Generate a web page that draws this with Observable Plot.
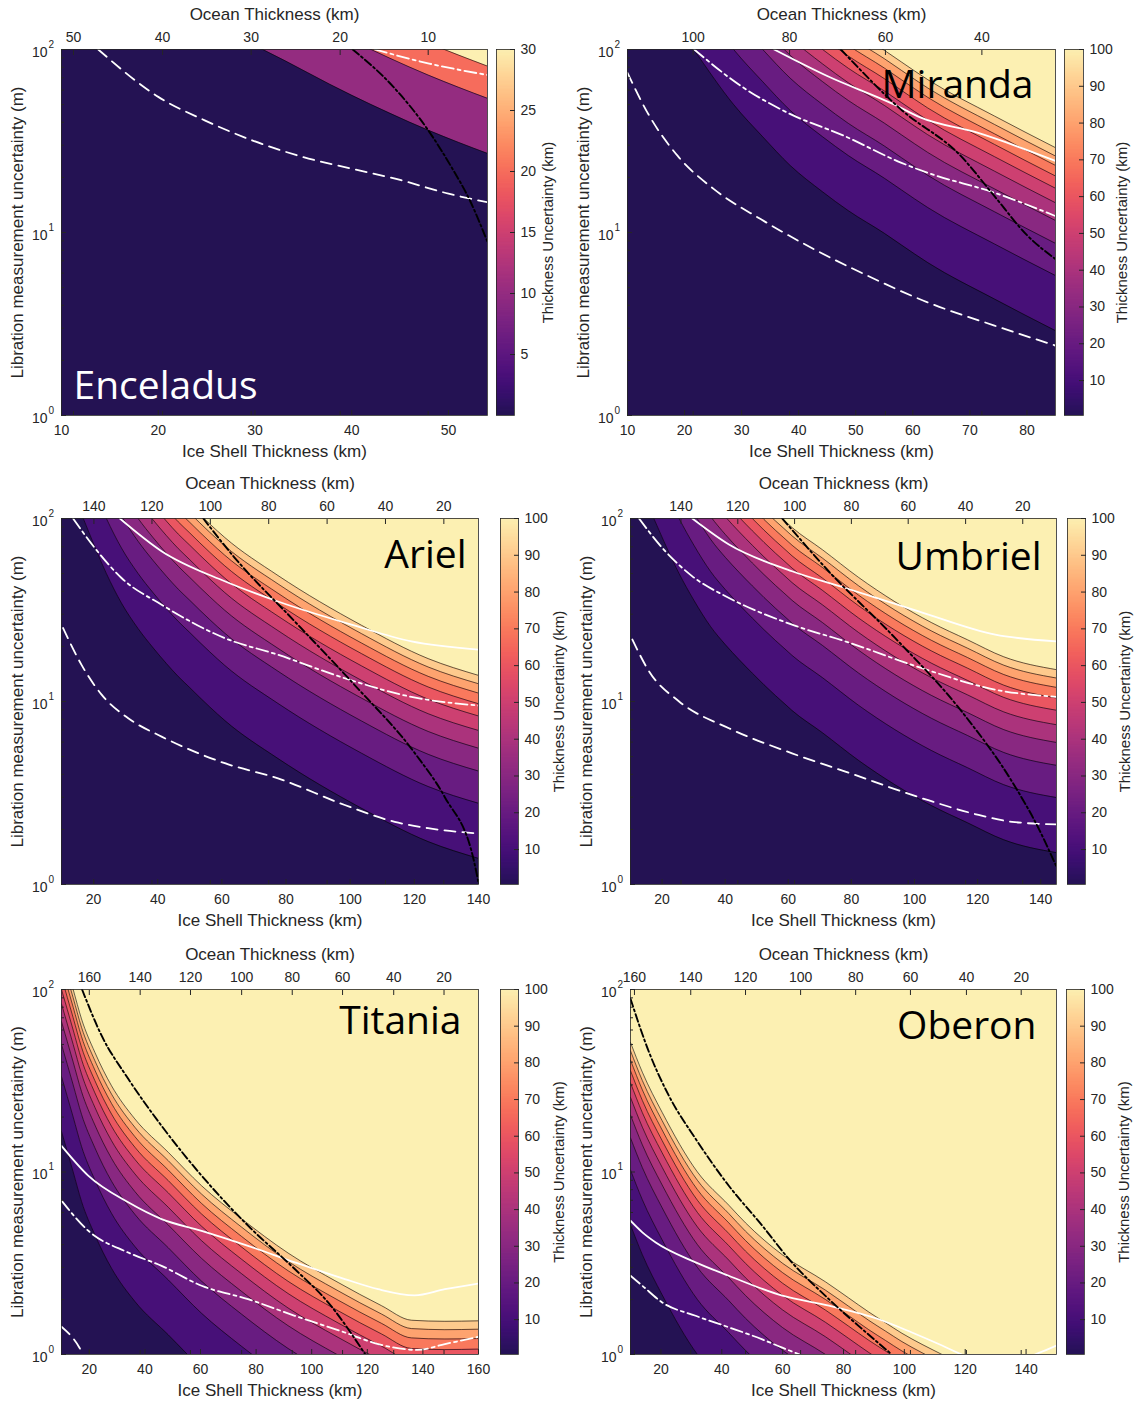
<!DOCTYPE html>
<html><head><meta charset="utf-8">
<script src="https://cdn.jsdelivr.net/npm/d3@7"></script>
<script src="https://cdn.jsdelivr.net/npm/@observablehq/plot@0.6"></script>
<style>
html,body{margin:0;padding:0;background:#fff;}
#root{position:relative;width:1137px;height:1402px;overflow:hidden;background:#fff;}
#root > svg{position:absolute;overflow:visible;}
</style></head><body><div id="root"></div>
<script>
// ---------- shared tick labels ----------
const yTicks = [1, 10, 100];
const yTickExp = ["0", "1", "2"];
const yMinorTicks = [2,3,4,5,6,7,8,9,20,30,40,50,60,70,80,90];

// ---------- Enceladus ----------
// sensitivity = thickness uncertainty (km) per metre of libration uncertainty
const encIce  = [10, 20, 30.8, 40, 47.9, 54.1];
const encSens = [0.03, 0.055, 0.1, 0.178, 0.276, 0.371];
const encLevels = [10, 20, 30];
const encIceTicks = [10, 20, 30, 40, 50];
const encOceanTicks = [50, 40, 30, 20, 10];
const encOceanTickIce = [11.24, 20.45, 29.6, 38.8, 47.9];
const encBarTicks = [5, 10, 15, 20, 25, 30];
const encDashed = [[13.8,100],[20,55.1],[24.8,41.0],[29.7,31.9],[34.9,25.9],[40,22.3],[45.1,19.3],[50,16.3],[54.1,14.6]];
const encDashDot = [[42.4,100],[48,83.8],[54.1,72.4]];
const encBlack = [[40.1,100],[44.3,62.5],[47.9,36.2],[50.3,22.8],[52.2,15.0],[54.1,8.7]];

// ---------- Miranda ----------
const mirIce  = [10, 21.6, 28.6, 33.7, 38.5, 44.2, 48.7, 55, 58, 62.6, 74.3, 85];
const mirSens = [0.03, 0.1, 0.2, 0.3, 0.43, 0.6, 0.76, 1.01, 1.17, 1.46, 2.31, 3.44];
const mirIceTicks = [10, 20, 30, 40, 50, 60, 70, 80];
const mirOceanTicks = [100, 80, 60, 40];
const mirOceanTickIce = [21.5, 38.4, 55.2, 72.1];
const mirDashed = [[10,74.6],[13.5,45.2],[18.8,26.2],[25.2,17.2],[33.4,11.8],[42.7,8.1],[52.1,5.8],[62.6,4.15],[74.3,3.1],[85,2.41]];
const mirDashDot = [[21.7,100],[29.9,63.1],[38,45.2],[48,33.7],[57.9,24.1],[62.6,21.2],[74.3,16.5],[85,12.3]];
const mirSolid = [[35.7,100],[45,71.6],[56.7,50.1],[61.4,42.4],[71.3,35.1],[85,24.6]];
const mirBlack = [[47.4,100],[57.9,47.1],[68.4,26.2],[74.3,15.8],[80.1,9.6],[85,7.16]];

// ---------- Ariel ----------
const ariIce  = [10, 16.8, 24, 28.7, 33.9, 38.6, 42.7, 46.4, 50, 53.1, 56.2, 60.9, 77.5, 103.5, 124.3, 140];
const ariSens = [0.05, 0.1, 0.2, 0.29, 0.4, 0.51, 0.62, 0.73, 0.84, 0.95, 1.07, 1.27, 2.05, 3.83, 5.83, 7.2];
const ariIceTicks = [20, 40, 60, 80, 100, 120, 140];
const ariOceanTicks = [140, 120, 100, 80, 60, 40, 20];
const ariOceanTickIce = [20.1, 38.2, 56.4, 74.6, 92.8, 111.0, 129.2];
const ariDashed = [[10.5,25.2],[16.2,15.9],[22.5,10.9],[30.8,8.1],[41.2,6.43],[60.9,4.6],[77.5,3.8],[98.3,2.72],[113.9,2.2],[124.3,2.03],[140,1.9]];
const ariDashDot = [[13.6,100],[20.4,69],[28.7,47.3],[41.2,33.8],[60.9,22.2],[77.5,18.0],[98.3,13.4],[119.1,10.6],[140,9.5]];
const ariSolid = [[28.2,100],[41.2,66.3],[60.9,45.4],[77.5,35.2],[100.4,26.3],[119.1,21.3],[140,19.2]];
const ariBlack = [[54.2,100],[64,61],[82.7,27.4],[101.4,12.3],[120.4,5.15],[129.5,3.0],[138.6,1.34],[140,1.02]];

// ---------- Umbriel ----------
const umbIce  = [10, 17.4, 25.4, 30.1, 35.4, 40.1, 44.4, 48.6, 52.3, 56, 58.6, 61.2, 70.8, 82.3, 93.8, 105.3, 116.8, 128.3, 145];
const umbSens = [0.05, 0.1, 0.2, 0.28, 0.39, 0.49, 0.59, 0.70, 0.81, 0.93, 1.02, 1.12, 1.48, 2.1, 2.85, 3.7, 4.6, 5.7, 6.7];
const umbIceTicks = [20, 40, 60, 80, 100, 120, 140];
const umbOceanTicks = [140, 120, 100, 80, 60, 40, 20];
const umbOceanTickIce = [26.0, 44.0, 62.0, 80.0, 98.0, 116.2, 134.3];
const umbDashed = [[10.6,21.8],[15.9,14.6],[25.4,10.0],[41.2,7.14],[61.2,5.21],[78.1,4.14],[102.4,2.96],[120.3,2.4],[130.9,2.2],[145,2.13]];
const umbDashDot = [[12.7,100],[20.1,69],[29.6,48.3],[41.2,36.8],[61.2,26.3],[78.1,21.3],[102.4,15.2],[125.6,11.6],[145,10.6]];
const umbSolid = [[29.6,100],[41.2,72.1],[61.2,51.5],[78.1,41.7],[101.3,31.1],[125.6,23.2],[145,21.3]];
const umbBlack = [[58.1,100],[72.8,51.5],[93.9,22.2],[115,8.8],[130.9,3.65],[139.3,2.03],[145,1.25]];

// ---------- Titania ----------
const titIce  = [10, 14.2, 17.2, 22, 28, 36.4, 48.4, 60.4, 74.7, 91.5, 109.5, 125.1, 135.9, 147.9, 160];
const titSens = [0.6, 1.0, 1.45, 2.21, 3.37, 5.12, 7.8, 11.9, 18, 27.8, 40.3, 54, 64.9, 65.8, 65.4];
const titIceTicks = [20, 40, 60, 80, 100, 120, 140, 160];
const titOceanTicks = [160, 140, 120, 100, 80, 60, 40, 20];
const titOceanTickIce = [20.0, 38.3, 56.4, 74.8, 93.0, 111.1, 129.5, 147.6];
const titDashed = [[10,1.42],[16.3,1.1],[18.5,0.95]];
const titDashDot = [[10,6.97],[19.6,4.77],[34,3.62],[46,3.06],[60.4,2.38],[77.1,2.01],[93.9,1.63],[111.9,1.32],[123.9,1.14],[138,1.06],[147.9,1.14],[160,1.25]];
const titSolid = [[10,13.9],[19.6,9.55],[34,6.82],[46,5.52],[60.4,4.76],[77.1,3.94],[93.9,3.2],[111.9,2.59],[123.9,2.28],[137,2.11],[147.9,2.28],[160,2.45]];
const titBlack = [[17.4,100],[24.4,56],[34,32.4],[46,17.9],[60.4,9.55],[77.1,5.08],[93.9,2.94],[105.9,1.93],[119.3,1.0]];

// ---------- Oberon ----------
const obeIce  = [10, 13.9, 20.4, 32, 42.3, 47.8, 60, 74.1, 81.7, 88.3, 93.8, 99.2, 105.8, 112.4, 130, 150];
const obeSens = [1.95, 2.84, 4.71, 10, 15.2, 19, 28.5, 40, 49, 58.5, 67, 76.5, 88, 100, 140, 190];
const obeIceTicks = [20, 40, 60, 80, 100, 120, 140];
const obeOceanTicks = [160, 140, 120, 100, 80, 60, 40, 20];
const obeOceanTickIce = [11.3, 29.8, 47.8, 65.9, 84.0, 102.0, 120.4, 138.4];
const obeDashDot = [[10,2.7],[13.9,2.38],[20.4,1.93],[31.4,1.63],[42.3,1.41],[53.3,1.21],[59.9,1.09],[65.6,1.0]];
const obeSolid = [[10,5.41],[13.9,4.67],[18.3,4.11],[31.4,3.2],[42.3,2.7],[59.9,2.1],[75.2,1.85],[91.6,1.56],[102.5,1.32],[112.4,1.12],[118.9,1.0],[131,0.88],[142.9,1.0],[150,1.12]];
const obeBlack = [[10,88.9],[16.1,45.3],[22.6,26.2],[31.4,15.2],[42.3,8.41],[53.3,5.08],[62.1,3.33],[75.2,2.01],[86.1,1.38],[95.9,1.0]];

const levels100 = [10, 20, 30, 40, 50, 60, 70, 80, 90, 100];
const barTicks100 = [10, 20, 30, 40, 50, 60, 70, 80, 90, 100];

const lineStyles = {
  dashed:  {stroke: "#fff", strokeWidth: 1.8, strokeDasharray: "11,7"},
  dashdot: {stroke: "#fff", strokeWidth: 1.8, strokeDasharray: "12,4,3,4"},
  solid:   {stroke: "#fff", strokeWidth: 1.8},
  black:   {stroke: "#000", strokeWidth: 1.9, strokeDasharray: "8,3,2,3"}
};

const panels = [
  {name: "Enceladus", frame: [61,49,487,415], bar: [496,514], xDomain: [10,54.03], ice: encIce, sens: encSens, levels: encLevels,
   cmax: 30, barMin: 0, barTicks: encBarTicks, iceTicks: encIceTicks, oceanTicks: encOceanTicks, oceanTickIce: encOceanTickIce,
   lines: [[encDashed,"dashed"],[encDashDot,"dashdot"],[encBlack,"black"]],
   label: {frameAnchor: "bottom-left", textAnchor: "start", dx: 12, dy: -17, fill: "#fff"}, barTitleDx: 34},
  {name: "Miranda", frame: [627,49,1055,415], bar: [1064,1083], xDomain: [10,85], ice: mirIce, sens: mirSens, levels: levels100,
   cmax: 100, barMin: 0.5, barTicks: barTicks100, iceTicks: mirIceTicks, oceanTicks: mirOceanTicks, oceanTickIce: mirOceanTickIce,
   lines: [[mirDashed,"dashed"],[mirDashDot,"dashdot"],[mirSolid,"solid"],[mirBlack,"black"]],
   label: {frameAnchor: "top-right", textAnchor: "end", dx: -22, dy: 48, fill: "#000"}, barTitleDx: 39},
  {name: "Ariel", frame: [61,518,478,884], bar: [500,518], xDomain: [10,140], ice: ariIce, sens: ariSens, levels: levels100,
   cmax: 100, barMin: 0.5, barTicks: barTicks100, iceTicks: ariIceTicks, oceanTicks: ariOceanTicks, oceanTickIce: ariOceanTickIce,
   lines: [[ariDashed,"dashed"],[ariDashDot,"dashdot"],[ariSolid,"solid"],[ariBlack,"black"]],
   label: {frameAnchor: "top-right", textAnchor: "end", dx: -12, dy: 49, fill: "#000"}, barTitleDx: 41},
  {name: "Umbriel", frame: [630,518,1056,884], bar: [1067,1085], xDomain: [10,145], ice: umbIce, sens: umbSens, levels: levels100,
   cmax: 100, barMin: 0.5, barTicks: barTicks100, iceTicks: umbIceTicks, oceanTicks: umbOceanTicks, oceanTickIce: umbOceanTickIce,
   lines: [[umbDashed,"dashed"],[umbDashDot,"dashdot"],[umbSolid,"solid"],[umbBlack,"black"]],
   label: {frameAnchor: "top-right", textAnchor: "end", dx: -15, dy: 51, fill: "#000"}, barTitleDx: 40},
  {name: "Titania", frame: [61,989,478,1354], bar: [500,518], xDomain: [10,160], ice: titIce, sens: titSens, levels: levels100,
   cmax: 100, barMin: 0.5, barTicks: barTicks100, iceTicks: titIceTicks, oceanTicks: titOceanTicks, oceanTickIce: titOceanTickIce,
   lines: [[titDashed,"dashed"],[titDashDot,"dashdot"],[titSolid,"solid"],[titBlack,"black"]],
   label: {frameAnchor: "top-right", textAnchor: "end", dx: -17, dy: 44, fill: "#000"}, barTitleDx: 41},
  {name: "Oberon", frame: [630,989,1056,1354], bar: [1066,1084], xDomain: [10,150], ice: obeIce, sens: obeSens, levels: levels100,
   cmax: 100, barMin: 0.5, barTicks: barTicks100, iceTicks: obeIceTicks, oceanTicks: obeOceanTicks, oceanTickIce: obeOceanTickIce,
   lines: [[obeDashDot,"dashdot"],[obeSolid,"solid"],[obeBlack,"black"]],
   label: {frameAnchor: "top-right", textAnchor: "end", dx: -20, dy: 49, fill: "#000"}, barTitleDx: 40}
];

const root = document.getElementById("root");
const baseStyle = {fontFamily: "'Liberation Sans', Arial, Helvetica, sans-serif", fontSize: "14px", color: "#262626", background: "transparent", overflow: "visible"};
const ink = "#262626";

function drawPanel(p) {
  const [fx0, fy0, fx1, fy1] = p.frame;
  const fw = fx1 - fx0, fh = fy1 - fy0;
  const mL = 62, mT = 50, mR = 6, mB = 52;
  const color = {type: "linear", domain: [0, p.cmax],
    interpolate: t => d3.interpolateMagma(0.145 + 0.825 * Math.max(0, Math.min(1, t)))};
  const bands = p.levels.flatMap(L => p.ice.map((x, i) => ({x, y: L / p.sens[i], top: 1e5, L})));
  const specials = p.lines.filter(l => l[1] !== "black").concat(p.lines.filter(l => l[1] === "black"));

  const main = Plot.plot({
    width: mL + fw + mR, height: mT + fh + mB,
    marginLeft: mL, marginTop: mT, marginRight: mR, marginBottom: mB,
    x: {domain: p.xDomain, label: null},
    y: {type: "log", domain: [1, 100], label: null},
    color,
    style: baseStyle,
    marks: [
      Plot.rect([0], {x1: () => p.xDomain[0], x2: () => p.xDomain[1], y1: () => 1, y2: () => 100, fill: () => 0}),
      Plot.areaY(bands, {x: "x", y1: "y", y2: "top", fill: "L", z: "L", curve: "monotone-x", clip: true}),
      Plot.line(bands, {x: "x", y: "y", z: "L", stroke: "#000", strokeWidth: 0.6, curve: "monotone-x", clip: true}),
      ...specials.map(([data, kind]) => Plot.line(data, {x: d => d[0], y: d => d[1], curve: "monotone-x", clip: true, ...lineStyles[kind]})),
      Plot.text([p.name], {text: d => d, fontFamily: "'Open Sans', 'Noto Sans', sans-serif", fontSize: 39, lineAnchor: "bottom", ...p.label}),
      Plot.frame({stroke: ink, strokeWidth: 0.8}),
      // tick marks (inward)
      Plot.axisX(p.iceTicks, {anchor: "bottom", tickSize: -5, tickFormat: () => "", label: null}),
      Plot.axisX(p.oceanTickIce, {anchor: "top", tickSize: -5, tickFormat: () => "", label: null}),
      Plot.axisX(p.oceanTickIce, {anchor: "bottom", tickSize: -4, tickFormat: () => "", label: null}),
      Plot.axisY(yTicks, {anchor: "left", tickSize: -5, tickFormat: () => "", label: null}),
      Plot.axisY(yMinorTicks, {anchor: "left", tickSize: -3, tickFormat: () => "", label: null}),
      // tick labels
      Plot.axisX(p.iceTicks, {anchor: "bottom", tickSize: 0, tickPadding: 10, fontSize: 14, label: null}),
      Plot.axisX(p.oceanTickIce, {anchor: "top", tickSize: 0, tickPadding: 8, fontSize: 14, label: null,
        tickFormat: d => String(p.oceanTicks[p.oceanTickIce.indexOf(d)])}),
      Plot.text(yTicks, {y: d => d, frameAnchor: "left", text: () => "10", textAnchor: "end", lineAnchor: "middle", dx: -14, dy: 3, fontSize: 14, fill: ink}),
      Plot.text(yTicks, {y: d => d, frameAnchor: "left", text: (d, i) => yTickExp[i], textAnchor: "start", lineAnchor: "middle", dx: -13, dy: -5, fontSize: 10, fill: ink}),
      // axis titles
      Plot.text(["Ocean Thickness (km)"], {text: d => d, frameAnchor: "top", lineAnchor: "middle", textAnchor: "middle", dy: -35, fontSize: 17, fill: ink}),
      Plot.text(["Ice Shell Thickness (km)"], {text: d => d, frameAnchor: "bottom", lineAnchor: "middle", textAnchor: "middle", dy: 36, fontSize: 17, fill: ink}),
      Plot.text(["Libration measurement uncertainty (m)"], {text: d => d, frameAnchor: "left", lineAnchor: "middle", textAnchor: "middle", dx: -44, rotate: -90, fontSize: 17, fill: ink})
    ]
  });
  main.style.left = (fx0 - mL) + "px";
  main.style.top = (fy0 - mT) + "px";
  root.append(main);

  // colour bar
  const bw = p.bar[1] - p.bar[0];
  const step = (p.cmax - p.barMin) / 300;
  const stops = d3.range(p.barMin, p.cmax, step);
  const bar = Plot.plot({
    width: bw + 70, height: mT + fh + mB,
    marginLeft: 0, marginRight: 70, marginTop: mT, marginBottom: mB,
    x: {domain: [0, 1], axis: null},
    y: {domain: [p.barMin, p.cmax], label: null},
    color,
    style: baseStyle,
    marks: [
      Plot.rect(stops, {x1: 0, x2: 1, y1: d => d, y2: d => Math.min(p.cmax, d + step * 1.8), fill: d => d + step / 2}),
      Plot.frame({stroke: ink, strokeWidth: 0.8}),
      Plot.axisY(p.barTicks, {anchor: "right", tickSize: -5, tickFormat: () => "", label: null}),
      Plot.axisY(p.barTicks, {anchor: "right", tickSize: 0, tickPadding: 6, fontSize: 14, label: null}),
      Plot.text(["Thickness Uncertainty (km)"], {text: d => d, frameAnchor: "right", lineAnchor: "middle", textAnchor: "middle", dx: p.barTitleDx, rotate: -90, fontSize: 15, fill: ink})
    ]
  });
  bar.style.left = p.bar[0] + "px";
  bar.style.top = (fy0 - mT) + "px";
  root.append(bar);
}

for (const p of panels) {
  try { drawPanel(p); } catch (e) { console.error(p.name, e); }
}
</script>
</body></html>
